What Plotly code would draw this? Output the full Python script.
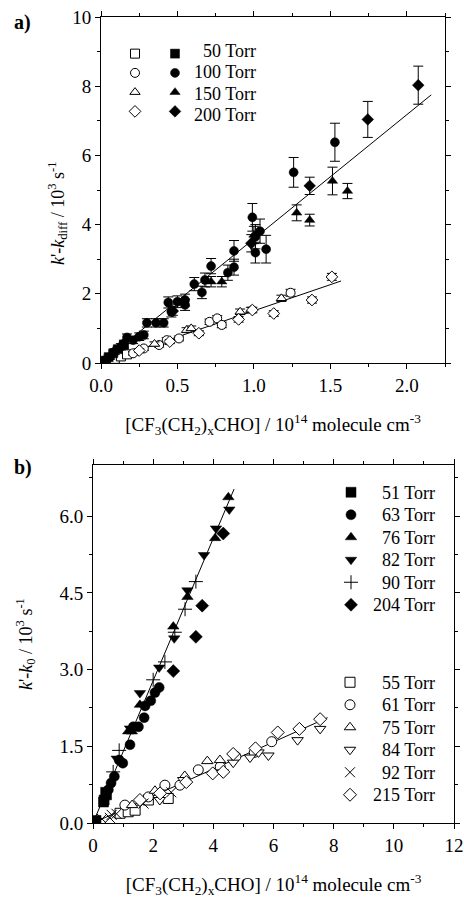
import plotly.graph_objects as go

W, H = 464, 898

# ---------------- Panel a data ----------------
a50_open_x = [0.03, 0.06, 0.09, 0.13, 0.17]
a50_open_y = [0.04, 0.08, 0.12, 0.19, 0.25]
a50_open_e = [0.04, 0.04, 0.05, 0.05, 0.05]
a100_open_x = [0.21, 0.28, 0.38, 0.43, 0.51, 0.71, 0.76, 0.79, 1.24]
a100_open_y = [0.28, 0.42, 0.52, 0.66, 0.71, 1.19, 1.29, 1.10, 2.03]
a100_open_e = [0.05, 0.06, 0.06, 0.07, 0.07, 0.08, 0.08, 0.08, 0.10]
a150_open_x = [0.35, 0.56, 0.59, 0.91, 0.98, 1.18]
a150_open_y = [0.55, 0.95, 1.00, 1.48, 1.53, 1.87]
a150_open_e = [0.06, 0.07, 0.07, 0.08, 0.08, 0.09]
a200_open_x = [0.25, 0.45, 0.64, 0.90, 0.99, 1.13, 1.38, 1.51]
a200_open_y = [0.36, 0.62, 0.86, 1.26, 1.53, 1.43, 1.82, 2.49]
a200_open_e = [0.05, 0.06, 0.07, 0.08, 0.08, 0.08, 0.09, 0.10]

a50_fill_x = [0.02, 0.05, 0.08, 0.11, 0.15]
a50_fill_y = [0.07, 0.17, 0.28, 0.40, 0.52]
a50_fill_e = [0.05, 0.06, 0.07, 0.08, 0.09]
a100_fill_x = [0.03, 0.06, 0.09, 0.13, 0.15, 0.17, 0.21, 0.25, 0.28, 0.30, 0.36,
               0.41, 0.44, 0.46, 0.50, 0.55, 0.55, 0.61, 0.66, 0.68, 0.72, 0.83,
               0.87, 0.87, 0.99, 1.01, 1.04, 1.01, 1.08, 1.26, 1.53]
a100_fill_y = [0.08, 0.18, 0.33, 0.47, 0.56, 0.74, 0.66, 0.76, 0.81, 1.16, 1.16,
               1.16, 1.75, 1.48, 1.77, 1.82, 1.68, 2.28, 2.04, 2.40, 2.80, 2.61,
               2.77, 3.24, 4.21, 3.65, 3.81, 3.19, 3.29, 5.51, 6.38]
a100_fill_e = [0.06, 0.07, 0.08, 0.09, 0.10, 0.10, 0.10, 0.11, 0.11, 0.12, 0.12,
               0.12, 0.16, 0.15, 0.17, 0.17, 0.16, 0.19, 0.18, 0.20, 0.22, 0.22,
               0.23, 0.30, 0.40, 0.35, 0.35, 0.30, 0.40, 0.43, 0.55]
a150_fill_x = [0.72, 0.79, 1.00, 1.28, 1.365, 1.514, 1.612]
a150_fill_y = [2.35, 2.35, 3.70, 4.34, 4.13, 5.26, 4.97]
a150_fill_e = [0.15, 0.15, 0.25, 0.23, 0.17, 0.40, 0.22]
a200_fill_x = [0.47, 0.983, 1.365, 1.745, 2.075]
a200_fill_y = [1.50, 3.46, 5.12, 7.04, 8.03]
a200_fill_e = [0.12, 0.25, 0.25, 0.52, 0.55]

a_fit_hi_x = [0.0, 2.16]
a_fit_hi_y = [0.0, 7.75]
a_fit_lo_x = [0.0, 1.57]
a_fit_lo_y = [0.0, 2.37]

a_labels = ["50 Torr", "100 Torr", "150 Torr", "200 Torr"]

# ---------------- Panel b data ----------------
b51_x = [0.10, 0.35, 0.37, 0.42, 0.45]
b51_y = [0.05, 0.41, 0.45, 0.60, 0.55]
b63_x = [0.51, 0.60, 0.71, 0.87, 0.99, 1.23, 1.34, 1.51, 1.70, 1.73, 1.92, 2.06, 2.20]
b63_y = [0.65, 0.78, 0.91, 1.23, 1.17, 1.53, 1.88, 1.88, 2.06, 2.29, 2.39, 2.55, 2.65]
b76_x = [1.17, 1.29, 1.56, 2.67, 3.14, 4.06, 4.50]
b76_y = [1.79, 1.79, 2.31, 3.84, 4.42, 5.57, 6.37]
b82_x = [0.79, 1.23, 1.56, 2.20, 2.70, 3.14, 3.69, 4.09, 4.53]
b82_y = [1.26, 1.85, 2.54, 3.04, 3.61, 4.55, 5.24, 5.76, 6.13]
b90_x = [0.67, 0.87, 2.00, 2.39, 2.72, 3.06, 3.42]
b90_y = [1.00, 1.42, 2.80, 3.15, 3.73, 4.18, 4.72]
b204_x = [2.67, 3.42, 3.63, 4.33]
b204_y = [2.97, 3.64, 4.25, 5.66]

b55_x = [0.90, 1.17, 1.40, 1.84, 2.50]
b55_y = [0.19, 0.22, 0.25, 0.45, 0.48]
b61_x = [1.06, 1.84, 2.39, 2.89, 3.50, 4.23, 4.75, 5.36, 5.94]
b61_y = [0.35, 0.51, 0.74, 0.74, 1.04, 1.10, 1.30, 1.38, 1.59]
b75_x = [1.30, 2.06, 3.05, 3.80, 4.22]
b75_y = [0.35, 0.63, 0.92, 1.21, 1.23]
b84_x = [2.22, 3.00, 4.31, 4.66, 5.22, 5.50, 5.83, 6.80, 7.55]
b84_y = [0.45, 0.84, 0.99, 1.18, 1.28, 1.38, 1.32, 1.62, 1.84]
b92_x = [0.30, 0.56, 0.62, 0.78, 1.68, 2.60]
b92_y = [0.08, 0.10, 0.16, 0.18, 0.38, 0.60]
b215_x = [1.56, 2.23, 3.10, 3.98, 4.33, 4.66, 5.40, 6.14, 6.86, 7.55]
b215_y = [0.45, 0.58, 0.80, 0.97, 1.00, 1.35, 1.46, 1.77, 1.84, 2.03]

b_fit_hi_x = [0.0, 4.69]
b_fit_hi_y = [0.0, 6.53]
b_fit_lo_x = [0.0, 7.8]
b_fit_lo_y = [0.0, 2.06]

b_fill_labels = ["51 Torr", "63 Torr", "76 Torr", "82 Torr", "90 Torr", "204 Torr"]
b_open_labels = ["55 Torr", "61 Torr", "75 Torr", "84 Torr", "92 Torr", "215 Torr"]

FONT = "Liberation Serif"

fig = go.Figure()


def err(arr):
    return dict(type="data", array=arr, visible=True, color="black",
                thickness=1, width=5)


def add_pt(x, y, e, symbol, filled, xa, ya, legend, size=9, name=""):
    if symbol in ("cross-thin", "x-thin"):
        marker = dict(symbol=symbol, size=size, color="black",
                      line=dict(color="black", width=1))
    elif filled:
        marker = dict(symbol=symbol, size=size, color="black",
                      line=dict(color="black", width=0.5))
    else:
        marker = dict(symbol=symbol, size=size, color="white",
                      line=dict(color="black", width=1))
    fig.add_trace(go.Scatter(
        x=x, y=y, mode="markers", marker=marker, xaxis=xa, yaxis=ya,
        error_y=err(e) if e is not None else None,
        legend=legend, showlegend=True, name=name))


# panel a fit lines
fig.add_trace(go.Scatter(x=a_fit_hi_x, y=a_fit_hi_y, mode="lines",
                         line=dict(color="black", width=1), showlegend=False,
                         xaxis="x", yaxis="y"))
fig.add_trace(go.Scatter(x=a_fit_lo_x, y=a_fit_lo_y, mode="lines",
                         line=dict(color="black", width=1), showlegend=False,
                         xaxis="x", yaxis="y"))

a_open = [(a50_open_x, a50_open_y, a50_open_e, "square"),
          (a100_open_x, a100_open_y, a100_open_e, "circle"),
          (a150_open_x, a150_open_y, a150_open_e, "triangle-up"),
          (a200_open_x, a200_open_y, a200_open_e, "diamond")]
a_fill = [(a50_fill_x, a50_fill_y, a50_fill_e, "square"),
          (a100_fill_x, a100_fill_y, a100_fill_e, "circle"),
          (a150_fill_x, a150_fill_y, a150_fill_e, "triangle-up"),
          (a200_fill_x, a200_fill_y, a200_fill_e, "diamond")]
for x, y, e, s in a_open:
    add_pt(x, y, e, s, False, "x", "y", "legend", size=9)
for x, y, e, s in a_fill:
    add_pt(x, y, e, s, True, "x", "y", "legend2", size=9)

# panel b fit lines
fig.add_trace(go.Scatter(x=b_fit_hi_x, y=b_fit_hi_y, mode="lines",
                         line=dict(color="black", width=1), showlegend=False,
                         xaxis="x2", yaxis="y2"))
fig.add_trace(go.Scatter(x=b_fit_lo_x, y=b_fit_lo_y, mode="lines",
                         line=dict(color="black", width=1), showlegend=False,
                         xaxis="x2", yaxis="y2"))

b_fill = [(b51_x, b51_y, "square"), (b63_x, b63_y, "circle"),
          (b76_x, b76_y, "triangle-up"), (b82_x, b82_y, "triangle-down"),
          (b90_x, b90_y, "cross-thin"), (b204_x, b204_y, "diamond")]
b_open = [(b55_x, b55_y, "square"), (b61_x, b61_y, "circle"),
          (b75_x, b75_y, "triangle-up"), (b84_x, b84_y, "triangle-down"),
          (b92_x, b92_y, "x-thin"), (b215_x, b215_y, "diamond")]
for x, y, s in b_fill:
    add_pt(x, y, None, s, True, "x2", "y2", "legend3", size=10)
for x, y, s in b_open:
    add_pt(x, y, None, s, False, "x2", "y2", "legend4", size=10)


def px2x(p):
    return p / W


def px2y(p):
    return 1 - p / H


axis_common = dict(showline=True, linecolor="black", linewidth=1, mirror="ticks",
                   ticks="outside", ticklen=5, tickwidth=1, tickcolor="black",
                   showgrid=False, zeroline=False, automargin=False,
                   tickfont=dict(family=FONT, size=19, color="black"))

xtitle = "[CF<sub>3</sub>(CH<sub>2</sub>)<sub>x</sub>CHO] / 10<sup>14</sup> molecule cm<sup>-3</sup>"

fig.update_layout(
    width=W, height=H, margin=dict(l=0, r=0, t=0, b=0),
    paper_bgcolor="white", plot_bgcolor="white",
    font=dict(family=FONT, color="black"),
    xaxis=dict(domain=[px2x(101), px2x(445)], anchor="y", range=[0, 2.25],
               dtick=0.5, tickformat=".1f",
               minor=dict(dtick=0.25, ticks="outside", ticklen=3, tickcolor="black"),
               title=dict(text=xtitle, font=dict(family=FONT, size=19), standoff=22),
               **axis_common),
    yaxis=dict(domain=[px2y(363), px2y(17)], anchor="x", range=[0, 10], dtick=2,
               minor=dict(dtick=1, ticks="outside", ticklen=3, tickcolor="black"),
               **axis_common),
    xaxis2=dict(domain=[px2x(93), px2x(454)], anchor="y2", range=[0, 12], dtick=2,
                minor=dict(dtick=1, ticks="outside", ticklen=3, tickcolor="black"),
                title=dict(text=xtitle, font=dict(family=FONT, size=19), standoff=22),
                **axis_common),
    yaxis2=dict(domain=[px2y(823), px2y(465)], anchor="x2", range=[0, 7],
                tickvals=[0, 1.5, 3, 4.5, 6], tickformat=".1f",
                minor=dict(dtick=0.75, ticks="outside", ticklen=3, tickcolor="black"),
                title=dict(text="<i>k</i>'-<i>k</i><sub>0</sub> / 10<sup>3</sup> s<sup>-1</sup>",
                           font=dict(family=FONT, size=18), standoff=22),
                **axis_common),
    legend=dict(x=px2x(115), y=px2y(39), xanchor="left", yanchor="top",
                bgcolor="rgba(0,0,0,0)", borderwidth=0,
                font=dict(family=FONT, size=12.5), itemsizing="trace"),
    legend2=dict(x=px2x(155), y=px2y(39), xanchor="left", yanchor="top",
                 bgcolor="rgba(0,0,0,0)", borderwidth=0,
                 font=dict(family=FONT, size=12.5), itemsizing="trace"),
    legend3=dict(x=px2x(331), y=px2y(476), xanchor="left", yanchor="top",
                 bgcolor="rgba(0,0,0,0)", borderwidth=0,
                 font=dict(family=FONT, size=15), itemsizing="trace"),
    legend4=dict(x=px2x(330), y=px2y(666), xanchor="left", yanchor="top",
                 bgcolor="rgba(0,0,0,0)", borderwidth=0,
                 font=dict(family=FONT, size=15), itemsizing="trace"),
)

ann = []
for i, t in enumerate(a_labels):
    ann.append(dict(text=t, x=px2x(258), y=px2y(51 + i * 21.3), xref="paper", yref="paper",
                    xanchor="right", yanchor="middle", showarrow=False,
                    font=dict(family=FONT, size=18, color="black")))
for i, t in enumerate(b_fill_labels):
    ann.append(dict(text=t, x=px2x(437), y=px2y(493 + i * 22.4), xref="paper", yref="paper",
                    xanchor="right", yanchor="middle", showarrow=False,
                    font=dict(family=FONT, size=18, color="black")))
for i, t in enumerate(b_open_labels):
    ann.append(dict(text=t, x=px2x(437), y=px2y(683 + i * 22.4), xref="paper", yref="paper",
                    xanchor="right", yanchor="middle", showarrow=False,
                    font=dict(family=FONT, size=18, color="black")))
# y-axis title of panel a
ann.append(dict(text="<i>k</i>'-<i>k</i><sub>diff</sub> / 10<sup>3</sup> s<sup>-1</sup>",
                x=px2x(57), y=px2y(213), xref="paper", yref="paper", textangle=-90,
                xanchor="center", yanchor="middle", showarrow=False,
                font=dict(family=FONT, size=18, color="black")))
ann.append(dict(text="<b>a)</b>", x=px2x(12), y=px2y(22), xref="paper", yref="paper",
                xanchor="left", yanchor="middle", showarrow=False,
                font=dict(family=FONT, size=20, color="black")))
ann.append(dict(text="<b>b)</b>", x=px2x(12), y=px2y(467), xref="paper", yref="paper",
                xanchor="left", yanchor="middle", showarrow=False,
                font=dict(family=FONT, size=20, color="black")))
fig.update_layout(annotations=ann)

fig.write_html("out.html", config={"displayModeBar": False},
               post_script="document.body.style.margin='0';document.body.style.overflow='hidden';")
